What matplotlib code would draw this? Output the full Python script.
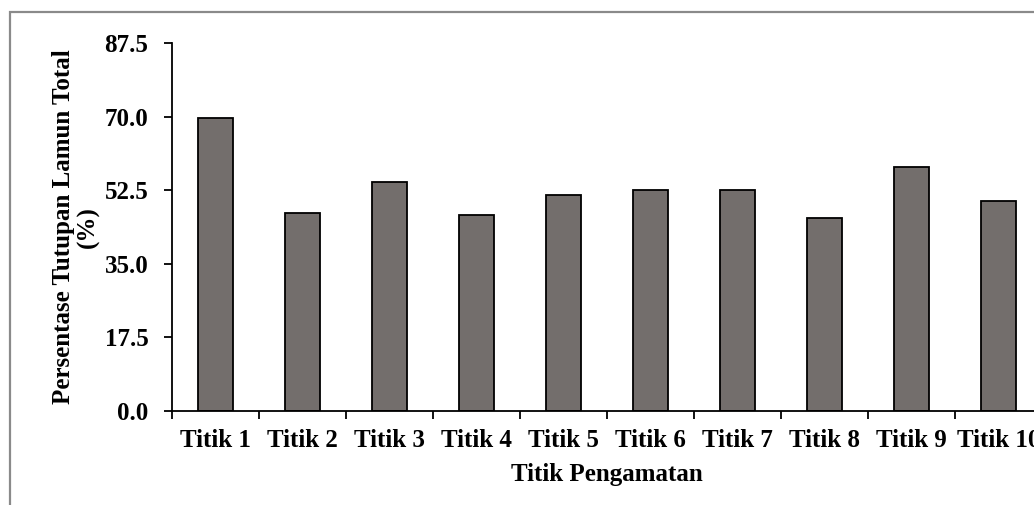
import matplotlib
matplotlib.use('Agg')
import matplotlib.pyplot as plt
from matplotlib.patches import Rectangle

# data
categories = ['Titik 1', 'Titik 2', 'Titik 3', 'Titik 4', 'Titik 5',
              'Titik 6', 'Titik 7', 'Titik 8', 'Titik 9', 'Titik 10']
tutupan = [69.7, 47.1, 54.4, 46.6, 51.4, 52.5, 52.5, 45.9, 57.9, 50.0]
yticks = [0.0, 17.5, 35.0, 52.5, 70.0, 87.5]

plt.rcParams['font.family'] = ['Liberation Serif', 'DejaVu Serif']
plt.rcParams['font.weight'] = 'bold'
plt.rcParams['font.size'] = 18

W, H = 1034, 505
fig = plt.figure(figsize=(W / 100, H / 100), dpi=100)

# gray frame round the chart (only top and left visible)
fig.patches.append(Rectangle((10 / W, -0.1), 1.2, (H - 12) / H + 0.1,
                             transform=fig.transFigure, fill=False,
                             edgecolor='#8a8a8a', lw=1.6))

ax = fig.add_axes([172 / W, 94 / H, 870 / W, 368 / H])
x = list(range(len(categories)))
ax.bar(x, tutupan, width=0.41, color='#736e6c', edgecolor='black', linewidth=1.3)

ax.set_xlim(-0.5, len(categories) - 0.5)
ax.set_ylim(0, 87.5)
ax.set_yticks(yticks)
ax.set_yticklabels(['%.1f' % v for v in yticks])

# boundary ticks, labels at centers
ax.set_xticks([i - 0.5 for i in range(len(categories) + 1)])
ax.set_xticklabels([])
ax.set_xticks(x, minor=True)
ax.set_xticklabels(categories, minor=True)
ax.tick_params(axis='x', which='major', direction='out', length=6, width=1.3)
ax.tick_params(axis='x', which='minor', length=0, pad=13)
ax.tick_params(axis='y', direction='out', length=6, width=1.3, pad=11)

for s in ['top', 'right']:
    ax.spines[s].set_visible(False)
for s in ['left', 'bottom']:
    ax.spines[s].set_linewidth(1.3)

ax.set_xlabel('Titik Pengamatan', fontweight='bold', labelpad=8)
ax.set_ylabel('Persentase Tutupan Lamun Total\n(%)', fontweight='bold',
              linespacing=1.12, labelpad=3)

fig.savefig('out.png', dpi=100)
